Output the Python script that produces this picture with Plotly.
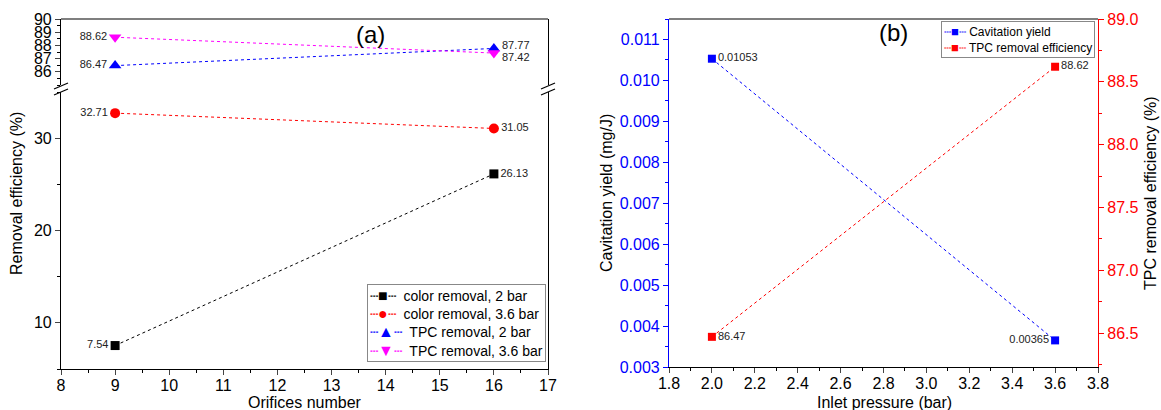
import plotly.graph_objects as go

# ---------------- data ----------------
orifices = [9, 16]
color_2bar = [7.54, 26.13]
color_36bar = [32.71, 31.05]
tpc_2bar = [86.47, 87.77]
tpc_36bar = [88.62, 87.42]

pressure = [2.0, 3.6]
cav_yield = [0.01053, 0.00365]
tpc_removal = [86.47, 88.62]

series_a_names = ["color removal, 2 bar", "color removal, 3.6 bar",
                  "TPC removal, 2 bar", "TPC removal, 3.6 bar"]
series_b_names = ["Cavitation yield", "TPC removal efficiency"]

W, H = 1161, 410
FONT = "Arial, Liberation Sans, sans-serif"


def px(x):
    return x / W


def py(y):
    return 1 - y / H


# panel geometry (pixels)
A_L, A_R = 61, 548
A_BOT, A_LOW_TOP, A_UP_BOT, A_TOP = 369, 92, 85, 19
B_L, B_R = 669, 1098
B_BOT, B_TOP = 367, 19

fig = go.Figure()
LBL = dict(size=11, color="#222", family=FONT)

styles_a = [("black", "square", 9, "■"), ("red", "circle", 10, "●"),
            ("blue", "triangle-up", 11, "▲"), ("magenta", "triangle-down", 11, "▼")]


def add_a(i, y, yaxis, texts):
    color, symbol, size, _ = styles_a[i]
    fig.add_trace(go.Scatter(
        x=orifices, y=y, name=series_a_names[i], mode="lines+markers+text",
        line=dict(color=color, width=1, dash="dot"),
        marker=dict(color=color, symbol=symbol, size=size),
        text=texts, textposition=["middle left", "middle right"], textfont=LBL,
        xaxis="x", yaxis=yaxis, cliponaxis=False))


add_a(0, color_2bar, "y", [f"{v:.2f}" for v in color_2bar])
add_a(1, color_36bar, "y", [f"{v:.2f}" for v in color_36bar])
add_a(2, tpc_2bar, "y2", [f"{tpc_2bar[0]:.2f}", ""])
add_a(3, tpc_36bar, "y2", [f"{tpc_36bar[0]:.2f}", ""])

fig.add_trace(go.Scatter(
    x=pressure, y=cav_yield, name=series_b_names[0], mode="lines+markers+text",
    line=dict(color="blue", width=1, dash="dot"),
    marker=dict(color="blue", symbol="square", size=8),
    text=[f"{v:.5f}" for v in cav_yield], textposition=["middle right", "middle left"],
    textfont=LBL, xaxis="x3", yaxis="y3", cliponaxis=False))
fig.add_trace(go.Scatter(
    x=pressure, y=tpc_removal, name=series_b_names[1], mode="lines+markers+text",
    line=dict(color="red", width=1, dash="dot"),
    marker=dict(color="red", symbol="square", size=8),
    text=[f"{v:.2f}" for v in tpc_removal], textposition=["middle right", "middle right"],
    textfont=LBL, xaxis="x3", yaxis="y4", cliponaxis=False))

TS = 16
tickfont = dict(size=TS, family=FONT, color="black")
common = dict(showline=True, linewidth=1.2, ticks="outside", ticklen=5, tickwidth=1,
              showgrid=False, zeroline=False, tickfont=tickfont, automargin=False)

fig.update_layout(
    width=W, height=H, margin=dict(l=0, r=0, t=0, b=0, autoexpand=False),
    paper_bgcolor="white", plot_bgcolor="white", showlegend=False,
    font=dict(family=FONT, color="black"),
    xaxis=dict(domain=[px(A_L), px(A_R)], range=[8, 17], dtick=1, anchor="y",
               linecolor="black", mirror=False, ticklabelstandoff=-3,
               minor=dict(dtick=0.5, ticklen=3, ticks="outside", tickcolor="black"), **common),
    yaxis=dict(domain=[py(A_BOT), py(A_LOW_TOP)], range=[5, 35], tickvals=[10, 20, 30],
               anchor="x", linecolor="black", mirror=True,
               minor=dict(tickvals=[5, 15, 25, 35], ticklen=3, ticks="outside", tickcolor="black"), **common),
    yaxis2=dict(domain=[py(A_UP_BOT), py(A_TOP)], range=[85, 90], tickvals=[86, 87, 88, 89, 90],
                anchor="x", linecolor="black", mirror=True,
                minor=dict(tickvals=[85, 85.5, 86.5, 87.5, 88.5, 89.5], ticklen=3, ticks="outside",
                           tickcolor="black"), **common),
    xaxis3=dict(domain=[px(B_L), px(B_R)], range=[1.8, 3.8], dtick=0.2, tick0=1.8, anchor="y3",
                tickformat=".1f", linecolor="black", mirror=False, ticklabelstandoff=-3,
                minor=dict(dtick=0.1, ticklen=3, ticks="outside", tickcolor="black"), **common),
    yaxis3=dict(domain=[py(B_BOT), py(B_TOP)], range=[0.003, 0.0115], dtick=0.001, tick0=0.003,
                tickformat=".3f", anchor="x3", linecolor="blue", tickcolor="blue",
                minor=dict(dtick=0.0005, ticklen=3, ticks="outside", tickcolor="blue"),
                **{**common, "tickfont": dict(size=TS, family=FONT, color="blue")}),
    yaxis4=dict(domain=[py(B_BOT), py(B_TOP)], range=[86.23, 89.0], dtick=0.5, tick0=86.5,
                tickformat=".1f", anchor="x3", overlaying="y3", side="right",
                linecolor="red", tickcolor="red",
                minor=dict(dtick=0.25, ticklen=3, ticks="outside", tickcolor="red"),
                **{**common, "tickfont": dict(size=TS, family=FONT, color="red")}),
)

shapes = []
# top frame lines
shapes.append(dict(type="line", xref="paper", yref="paper", x0=px(A_L), x1=px(A_R),
                   y0=py(A_TOP), y1=py(A_TOP), line=dict(color="black", width=1.2)))
shapes.append(dict(type="line", xref="paper", yref="paper", x0=px(B_L), x1=px(B_R),
                   y0=py(B_TOP), y1=py(B_TOP), line=dict(color="black", width=1.2)))
# axis break marks
for xb in (A_L, A_R):
    for yb in (86, 92):
        shapes.append(dict(type="line", xref="paper", yref="paper",
                           x0=px(xb - 7), x1=px(xb + 7), y0=py(yb + 3), y1=py(yb - 3),
                           line=dict(color="black", width=1.2)))
fig.update_layout(shapes=shapes)


def note(text, x, y, size, angle=0):
    return dict(text=text, x=px(x), y=py(y), xref="paper", yref="paper", showarrow=False,
                xanchor="center", yanchor="middle", textangle=angle,
                font=dict(size=size, family=FONT, color="black"))


def key(color, glyph, gsize):
    return (f"<span style='color:{color}'>┄</span>"
            f"<span style='color:{color};font-size:{gsize}px'>{glyph}</span>"
            f"<span style='color:{color}'>┄</span>")


legend_a_text = "<br>".join(f"{key(s[0], s[3], 16)}  {n}" for s, n in zip(styles_a, series_a_names))
legend_b_text = "<br>".join(f"{key(c, '■', 13)} {n}" for c, n in zip(["blue", "red"], series_b_names))

ann = [
    note("(a)", 370, 35, 24),
    note("(b)", 893, 33, 24),
    note("Orifices number", 305, 402, 16),
    note("Inlet pressure (bar)", 884, 402, 16),
    note("Removal efficiency (%)", 16, 194, 16, -90),
    note("Cavitation yield (mg/J)", 606, 193, 16, -90),
    note("TPC removal efficiency (%)", 1150, 193, 16, -90),
    # right-hand labels of the two close TPC points, nudged apart
    dict(text=f"{tpc_2bar[1]:.2f}", x=orifices[1], y=tpc_2bar[1], xref="x", yref="y2",
         showarrow=False, xanchor="left", yanchor="middle", xshift=6, yshift=3, font=LBL),
    dict(text=f"{tpc_36bar[1]:.2f}", x=orifices[1], y=tpc_36bar[1], xref="x", yref="y2",
         showarrow=False, xanchor="left", yanchor="middle", xshift=6, yshift=-4, font=LBL),
    # legends
    dict(text=legend_a_text, x=px(A_R - 2), y=py(362), xref="paper", yref="paper",
         showarrow=False, xanchor="right", yanchor="bottom", align="left",
         bgcolor="white", bordercolor="#888", borderwidth=1, borderpad=2,
         font=dict(size=14, family=FONT, color="black")),
    dict(text=legend_b_text, x=px(1095), y=py(21), xref="paper", yref="paper",
         showarrow=False, xanchor="right", yanchor="top", align="left",
         bgcolor="white", bordercolor="#888", borderwidth=1, borderpad=2,
         font=dict(size=12, family=FONT, color="black")),
]
fig.update_layout(annotations=ann)

fig.write_html("out.html", config={"displayModeBar": False},
               post_script="document.body.style.margin='0';document.body.style.padding='0';")
